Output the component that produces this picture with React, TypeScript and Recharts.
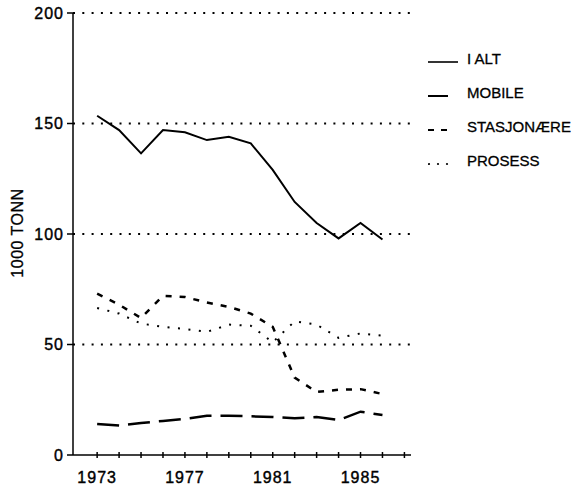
import React from "react";
import { LineChart, Line, XAxis, YAxis, CartesianGrid } from "recharts";

const years = [1973, 1974, 1975, 1976, 1977, 1978, 1979, 1980, 1981, 1982, 1983, 1984, 1985, 1986];
const iAlt = [153.5, 147, 136.5, 147, 146, 142.5, 144, 141, 129, 114.5, 105, 98, 105, 97.5];
const mobile = [14, 13.3, 14.5, 15.4, 16.3, 17.8, 17.8, 17.5, 17.2, 16.6, 17.2, 15.8, 19.6, 18.1];
const stasjonaere = [73, 68, 62, 72, 71.5, 69, 67, 64, 58, 35, 28.5, 29.5, 29.8, 27.6];
const prosess = [66.5, 64, 59.5, 58, 57, 55.7, 59, 58.5, 51, 60.5, 59, 53, 55, 54];

const xTicks = [1973, 1974, 1975, 1976, 1977, 1978, 1979, 1980, 1981, 1982, 1983, 1984, 1985, 1986, 1987];
const xLabels = [1973, 1977, 1981, 1985];
const yTicks = [0, 50, 100, 150, 200];
const gridValues = [50, 100, 150, 200];

const data = years.map((year, i) => ({
  year,
  iAlt: iAlt[i],
  mobile: mobile[i],
  stasjonaere: stasjonaere[i],
  prosess: prosess[i],
}));

const SERIES = [
  { key: "iAlt", name: "I ALT", dash: undefined, width: 2 },
  { key: "mobile", name: "MOBILE", dash: "22 9", width: 2.5 },
  { key: "stasjonaere", name: "STASJONÆRE", dash: "6 8", width: 2.5 },
  { key: "prosess", name: "PROSESS", dash: "2 8.5", width: 2 },
];

const FONT = "'Liberation Sans', Arial, sans-serif";

const XTick = (props: any) => {
  const { x, y, payload } = props;
  const show = xLabels.includes(payload.value);
  return (
    <g>
      <line x1={x} x2={x} y1={y - 3} y2={y + 3} stroke="#000" strokeWidth={1.5} />
      {show && (
        <text
          x={x}
          y={y + 28}
          textAnchor="middle"
          fontSize={16}
          fontFamily={FONT}
          letterSpacing={1}
          fill="#000"
          stroke="#000"
          strokeWidth={0.4}
        >
          {payload.value}
        </text>
      )}
    </g>
  );
};

const LegendSample = ({ idx }: { idx: number }) => {
  const y = 21;
  if (idx === 0) return <line x1={0} x2={30} y1={y} y2={y} stroke="#000" strokeWidth={1.6} />;
  if (idx === 1) return <line x1={0} x2={20} y1={y} y2={y} stroke="#000" strokeWidth={2} />;
  if (idx === 2)
    return (
      <g stroke="#000" strokeWidth={2}>
        <line x1={0} x2={6} y1={y} y2={y} />
        <line x1={13} x2={19} y1={y} y2={y} />
      </g>
    );
  return (
    <g fill="#000">
      <circle cx={1} cy={y} r={1.1} />
      <circle cx={10} cy={y} r={1.1} />
      <circle cx={19} cy={y} r={1.1} />
    </g>
  );
};

export default function App() {
  return (
    <div
      style={{
        position: "fixed",
        left: 0,
        top: 0,
        width: 573,
        height: 488,
        overflow: "hidden",
        background: "#fff",
      }}
    >
      <LineChart
        width={573}
        height={488}
        data={data}
        margin={{ top: 13, right: 162, bottom: 0, left: 23 }}
      >
        <CartesianGrid
          vertical={false}
          horizontalValues={gridValues}
          stroke="#000"
          strokeWidth={2}
          strokeDasharray="2 7.3"
        />
        <XAxis
          dataKey="year"
          type="number"
          domain={[1971.9, 1987.3]}
          ticks={xTicks}
          interval={0}
          height={33}
          tickSize={0}
          tickMargin={0}
          tickLine={false}
          axisLine={{ stroke: "#000", strokeWidth: 1.5 }}
          tick={<XTick />}
        />
        <YAxis
          domain={[0, 200]}
          ticks={yTicks}
          interval={0}
          width={50}
          tickSize={6}
          tickMargin={3}
          axisLine={{ stroke: "#000", strokeWidth: 1.5 }}
          tickLine={{ stroke: "#000", strokeWidth: 1.5 }}
          tick={{ fontSize: 16, fontFamily: FONT, fill: "#000", letterSpacing: 1, stroke: "#000", strokeWidth: 0.4 }}
        />
        {SERIES.map((s) => (
          <Line
            key={s.key}
            type="linear"
            dataKey={s.key}
            name={s.name}
            stroke="#000"
            strokeWidth={s.width}
            strokeDasharray={s.dash}
            dot={false}
            activeDot={false}
            isAnimationActive={false}
          />
        ))}
      </LineChart>

      {/* legend */}
      <div
        style={{
          position: "absolute",
          left: 428,
          top: 41,
          fontFamily: FONT,
          fontSize: 15,
          color: "#000",
          WebkitTextStroke: "0.3px #000",
        }}
      >
        {SERIES.map((s, i) => (
          <div key={s.key} style={{ display: "flex", alignItems: "center", height: 34 }}>
            <svg width={39} height={34} style={{ display: "block" }}>
              <LegendSample idx={i} />
            </svg>
            <span style={{ whiteSpace: "nowrap" }}>{s.name}</span>
          </div>
        ))}
      </div>

      <div
        style={{
          position: "absolute",
          left: -42,
          top: 223,
          width: 120,
          height: 20,
          lineHeight: "20px",
          textAlign: "center",
          transform: "rotate(-90deg)",
          fontFamily: FONT,
          fontSize: 16,
          letterSpacing: 0.5,
          color: "#000",
          WebkitTextStroke: "0.3px #000",
        }}
      >
        1000 TONN
      </div>
    </div>
  );
}
